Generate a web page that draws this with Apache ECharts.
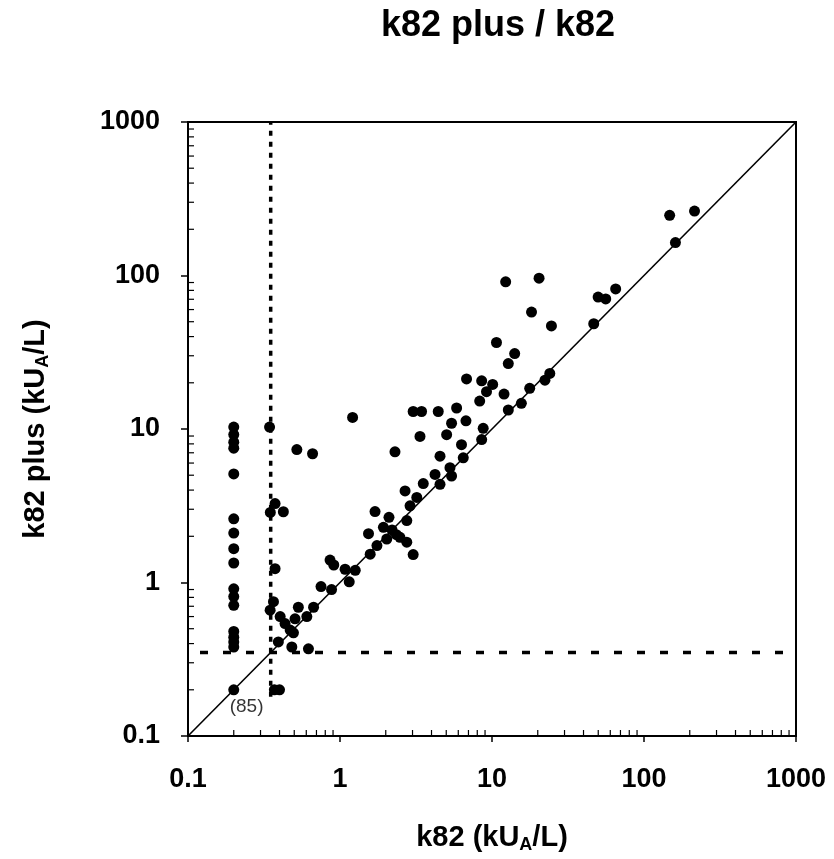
<!DOCTYPE html>
<html>
<head>
<meta charset="utf-8">
<script src="https://cdn.jsdelivr.net/npm/echarts@6/dist/echarts.min.js"></script>
<style>
html,body{margin:0;padding:0;background:#fff;}
#chart{width:834px;height:859px;}
</style>
</head>
<body>
<div id="chart"></div>
<script>
// k82 (x) values of the samples
const k82 = [
  0.2,0.2,0.2,0.2,0.2,0.2,0.2,0.2,0.2,0.2,0.2,0.2,0.2,0.2,0.2,0.2,0.2,
  0.344,0.374,0.348,0.424,0.374,0.365,0.347,0.404,0.435,0.47,0.494,0.532,0.506,0.482,0.393,0.62,0.605,0.37,0.40,0.52,0.66,1.21,
  0.67,0.75,0.88,0.86,0.91,1.08,1.26,1.15,
  1.58,1.75,1.54,1.70,2.10,1.93,2.03,2.48,2.75,3.03,2.20,2.35,2.75,2.89,3.20,2.68,3.53,4.55,4.22,5.42,5.29,6.47,6.3,4.55,2.30,
  3.36,5.03,8.55,8.75,6.74,5.42,3.03,3.44,4.43,5.85,8.3,9.2,10.1,8.55,6.8,12.0,12.8,15.6,17.7,22.3,24,12.8,14.1,10.7,
  12.3,20.4,18.2,24.6,46.7,49.9,56,65.1,147.5,215,161
];
// k82 plus (y) values of the samples
const k82plus = [
  10.3,9.2,8.2,7.5,5.1,2.6,2.1,1.66,1.34,0.91,0.81,0.71,0.48,0.44,0.41,0.38,0.2,
  10.3,3.27,2.86,2.89,1.23,0.75,0.66,0.60,0.54,0.49,0.47,0.69,0.58,0.38,0.41,0.37,0.60,0.2,0.2,7.35,6.9,11.9,
  0.69,0.94,0.90,1.40,1.30,1.22,1.20,1.01,
  1.53,1.74,2.08,2.90,2.66,2.29,1.92,1.97,1.83,1.52,2.2,2.05,2.53,3.16,3.58,3.95,4.41,4.36,5.06,4.94,5.6,6.49,7.9,6.65,7.1,
  8.95,9.18,8.53,10.1,11.3,10.9,13.0,13.0,13.0,13.7,15.2,17.5,19.5,20.6,21.2,16.9,13.3,14.7,18.4,20.8,23,26.7,31,36.6,
  91,96,57.8,46.9,48.5,72.3,70.4,81.8,246.6,263,164
];
const cutoff = 0.35;
const axisMin = 0.1;
const axisMax = 1000;
const tickLabels = ['0.1', '1', '10', '100', '1000'];
const minorTickValues = [0.2,0.3,0.4,0.5,0.6,0.7,0.8,0.9,2,3,4,5,6,7,8,9,20,30,40,50,60,70,80,90,200,300,400,500,600,700,800,900];
const countLabel = '(85)';
const countLabelPos = [0.243, 0.156];

const points = k82.map((x, i) => [x, k82plus[i]]);
const minorData = minorTickValues.map(v => [v, axisMin, 0]).concat(minorTickValues.map(v => [axisMin, v, 1]));

function fmt(v) {
  const idx = [0.1, 1, 10, 100, 1000].findIndex(t => Math.abs(t - v) / t < 1e-6);
  return idx >= 0 ? tickLabels[idx] : '';
}

const font = 'Liberation Sans, Arial, sans-serif';
const chart = echarts.init(document.getElementById('chart'));
chart.setOption({
  backgroundColor: '#fff',
  animation: false,
  title: {
    text: 'k82 plus / k82',
    left: 376,
    top: 3,
    textStyle: {fontFamily: font, fontWeight: 'bold', fontSize: 36, color: '#000'}
  },
  grid: {
    left: 188, right: 38, top: 122, bottom: 119,
    show: true, borderColor: '#000', borderWidth: 2, backgroundColor: 'transparent'
  },
  xAxis: {
    type: 'log', logBase: 10, min: axisMin, max: axisMax,
    name: 'k82 (kU{sub|A}/L)',
    nameLocation: 'middle', nameGap: 86,
    nameTextStyle: {fontFamily: font, fontWeight: 'bold', fontSize: 29, color: '#000',
      rich: {sub: {fontFamily: font, fontWeight: 'bold', fontSize: 18, color: '#000', padding: [14, 0, 0, 0]}}},
    axisLine: {show: true, lineStyle: {color: '#000', width: 2}},
    axisTick: {show: true, inside: false, length: 6, lineStyle: {color: '#000', width: 1.5}},
    axisLabel: {formatter: fmt, margin: 30, fontFamily: font, fontWeight: 'bold', fontSize: 27, color: '#000'},
    splitLine: {show: false}
  },
  yAxis: {
    type: 'log', logBase: 10, min: axisMin, max: axisMax,
    name: 'k82 plus (kU{sub|A}/L)',
    nameLocation: 'middle', nameGap: 136, nameRotate: 90,
    nameTextStyle: {fontFamily: font, fontWeight: 'bold', fontSize: 29, color: '#000',
      rich: {sub: {fontFamily: font, fontWeight: 'bold', fontSize: 18, color: '#000', padding: [14, 0, 0, 0]}}},
    axisLine: {show: true, lineStyle: {color: '#000', width: 2}},
    axisTick: {show: true, inside: false, length: 7, lineStyle: {color: '#000', width: 1.5}},
    axisLabel: {formatter: fmt, margin: 28, fontFamily: font, fontWeight: 'bold', fontSize: 27, color: '#000'},
    splitLine: {show: false}
  },
  series: [
    {
      type: 'custom',
      coordinateSystem: 'cartesian2d',
      silent: true,
      clip: false,
      data: minorData,
      encode: {x: 0, y: 1},
      renderItem: function (params, api) {
        const p = api.coord([api.value(0), api.value(1)]);
        const kind = api.value(2);
        const shape = kind === 0
          ? {x1: p[0], y1: p[1], x2: p[0], y2: p[1] - 6}
          : {x1: p[0], y1: p[1], x2: p[0] + 6, y2: p[1]};
        return {type: 'line', shape: shape, style: {stroke: '#000', lineWidth: 1.2}};
      }
    },
    {
      type: 'line', silent: true, showSymbol: false, symbol: 'none',
      data: [[axisMin, axisMin], [axisMax, axisMax]],
      lineStyle: {color: '#000', width: 1.6}
    },
    {
      type: 'line', silent: true, showSymbol: false, symbol: 'none',
      data: [[axisMin, cutoff], [axisMax, cutoff]],
      lineStyle: {color: '#000', width: 3.5, type: [8, 15], dashOffset: -12}
    },
    {
      type: 'line', silent: true, showSymbol: false, symbol: 'none',
      data: [[cutoff, 0.18], [cutoff, axisMax]],
      lineStyle: {color: '#000', width: 3.5, type: [5, 6]}
    },
    {
      type: 'scatter',
      data: points,
      symbol: 'circle',
      symbolSize: 11,
      itemStyle: {color: '#000', opacity: 1},
      z: 5
    },
    {
      type: 'scatter',
      data: [countLabelPos],
      symbolSize: 0,
      silent: true,
      label: {show: true, position: 'inside', formatter: countLabel,
        fontFamily: font, fontSize: 19, color: '#000'}
    }
  ]
});
</script>
</body>
</html>
